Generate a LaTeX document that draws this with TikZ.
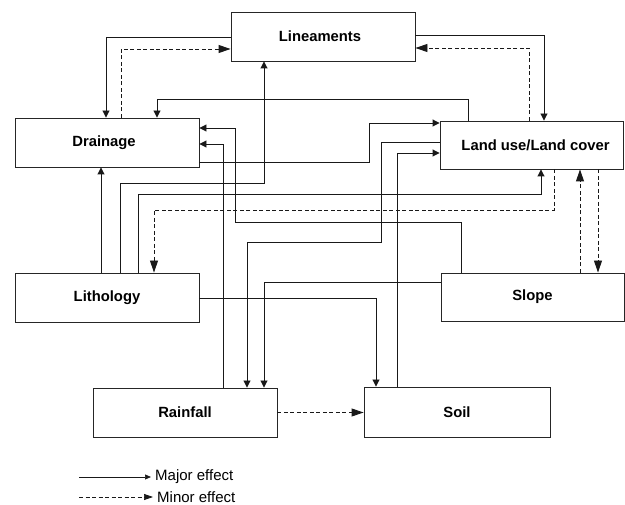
\documentclass[tikz,border=0pt]{standalone}
\usepackage{fontspec}
\setmainfont{Liberation Sans}
\usetikzlibrary{arrows.meta}
\begin{document}
\begin{tikzpicture}[x=1pt,y=-1pt,
  box/.style={draw=black!85, line width=0.9pt, minimum width=184pt, minimum height=49pt,
    inner sep=0pt, font=\fontsize{14.8}{16}\selectfont\bfseries},
  major/.style={draw=black!90, line width=0.9pt, -{Triangle[length=7pt,width=7pt]}},
  minor/.style={draw=black!90, line width=0.9pt, dash pattern=on 4pt off 2.5pt, -{Triangle[length=12pt,width=8pt]}},
  legmajor/.style={draw=black!90, line width=0.7pt, -{Triangle[length=6pt,width=5pt]}},
  legminor/.style={draw=black!90, line width=0.7pt, dash pattern=on 4pt off 2.5pt, -{Triangle[length=9pt,width=6pt]}},
  legtext/.style={anchor=west, inner xsep=4pt, inner ysep=2pt, font=\fontsize{15}{16}\selectfont}
]
\useasboundingbox (0,0) rectangle (625,505);

% boxes
\node[box] (lin) at (323,36.5) {\hspace*{-6pt}Lineaments};
\node[box] (dra) at (107,142.5) {\hspace*{-6pt}Drainage};
\node[box, minimum width=183pt, minimum height=48pt] (lus) at (531.5,145) {\hspace*{8pt}Land use/Land cover};
\node[box] (lit) at (107,297.5) {Lithology};
\node[box, minimum width=183pt, minimum height=48pt] (slo) at (532.5,297) {Slope};
\node[box] (rai) at (185,412.5) {Rainfall};
\node[box, minimum width=186pt, minimum height=50pt] (soi) at (457,412) {Soil};

% Lineaments <-> Drainage
\draw[major] (lin.west |- 0,37) -| (dra.north -| 106,0);
\draw[minor] (dra.north -| 121,0) |- (lin.west |- 0,49);
% Lineaments <-> Land use
\draw[major] (lin.east |- 0,35) -| (lus.north -| 544,0);
\draw[minor] (lus.north -| 529,0) |- (lin.east |- 0,48);
% Land use -> Drainage
\draw[major] (lus.north -| 468,0) -- (468,99) -| (dra.north -| 157,0);
% Drainage -> Land use
\draw[major] (dra.east |- 0,162) -| (369,123) -- (lus.west |- 0,123);
% Soil -> Land use
\draw[major] (soi.north -| 397,0) |- (lus.west |- 0,153);
% Land use -> Rainfall
\draw[major] (lus.west |- 0,142) -| (381,242) -| (rai.north -| 247,0);
% Slope -> Rainfall
\draw[major] (slo.west |- 0,282) -| (rai.north -| 264,0);
% Slope -> Drainage
\draw[major] (slo.north -| 461,0) |- (235,222) |- (dra.east |- 0,128);
% Rainfall -> Drainage
\draw[major] (rai.north -| 223,0) |- (dra.east |- 0,144);
% Lithology -> Drainage
\draw[major] (lit.north -| 101,0) -- (dra.south -| 101,0);
% Lithology -> Lineaments
\draw[major] (lit.north -| 120,0) |- (264,183) -- (lin.south -| 264,0);
% Lithology -> Land use
\draw[major] (lit.north -| 138,0) |- (541,194) -- (lus.south -| 541,0);
% Land use -> Lithology
\draw[minor] (lus.south -| 554,0) |- (154,210) -- (lit.north -| 154,0);
% Slope <-> Land use
\draw[minor] (slo.north -| 580,0) -- (lus.south -| 580,0);
\draw[minor] (lus.south -| 598,0) -- (slo.north -| 598,0);
% Lithology -> Soil
\draw[major] (lit.east |- 0,298) -| (soi.north -| 376,0);
% Rainfall -> Soil
\draw[minor] (rai.east) -- (rai.east -| soi.west);

% legend
\coordinate (la) at (79,477);
\coordinate (lb) at (151,477);
\coordinate (lc) at (79,497);
\coordinate (ld) at (153,497);
\draw[legmajor] (la) -- (lb);
\draw[legminor] (lc) -- (ld);
\node[legtext] (lt1) at (lb) {Major effect};
\node[legtext] (lt2) at (ld) {Minor effect};
\end{tikzpicture}
\end{document}
